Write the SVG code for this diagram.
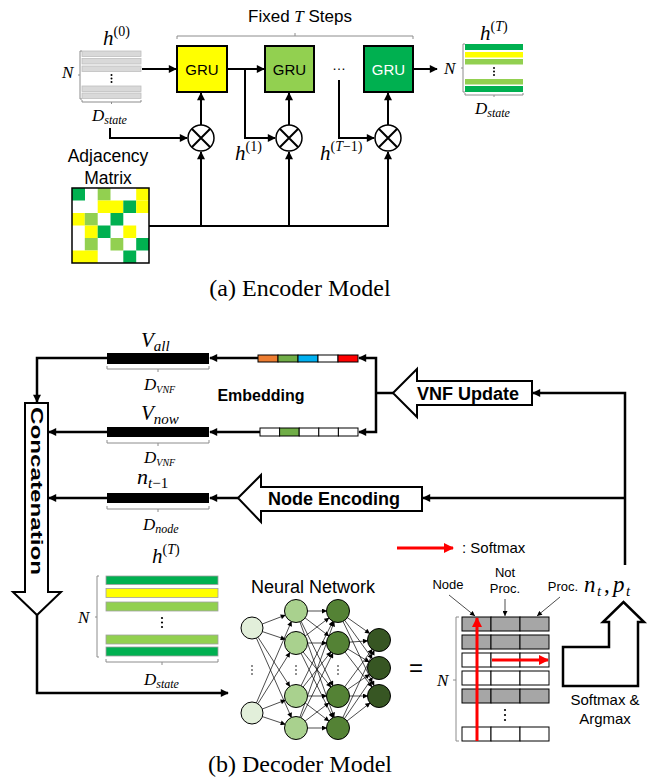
<svg xmlns="http://www.w3.org/2000/svg" width="656" height="780" viewBox="0 0 656 780">
<style>
.sans{font-family:"Liberation Sans",Arial,sans-serif}
.bold{font-weight:bold}
.math{font-family:"Liberation Serif","Times New Roman",serif;font-style:italic}
.up{font-style:normal}
.cap{font-family:"Liberation Serif","Times New Roman",serif}
.ln{fill:none;stroke:#000;stroke-width:2}
.lnb{fill:none;stroke:#000;stroke-width:2.5}
.brk{fill:none;stroke:#8c8c8c;stroke-width:1}
.nn{stroke:#000;stroke-width:0.7}
.cell{stroke:#000;stroke-width:1}
.gray{fill:#a6a6a6}
.wh{fill:#fff}
.y{fill:#ffff00}
.lg{fill:#92d050}
.g{fill:#00b050}
.gr0{fill:#d9d9d9;stroke:#bfbfbf;stroke-width:0.8}
.rowb{stroke:#a0a0a0;stroke-width:0.8}
.dot{fill:#000}
</style>
<defs>
<marker id="ah" viewBox="0 0 10 10" refX="9" refY="5" markerWidth="9" markerHeight="8" markerUnits="userSpaceOnUse" orient="auto"><path d="M0,0 L10,5 L0,10 z" fill="#000"/></marker>
<marker id="as" viewBox="0 0 10 10" refX="10" refY="5" markerWidth="6" markerHeight="5" markerUnits="userSpaceOnUse" orient="auto"><path d="M0,0 L10,5 L0,10 z" fill="#000"/></marker>
<marker id="ar" viewBox="0 0 10 10" refX="9" refY="5" markerWidth="11" markerHeight="10" markerUnits="userSpaceOnUse" orient="auto"><path d="M0,0 L10,5 L0,10 z" fill="#ff0000"/></marker>
</defs>

<!-- ================= ENCODER ================= -->
<g id="fixed-steps">
<text class="sans" x="300" y="22" font-size="17" text-anchor="middle">Fixed <tspan class="math">T</tspan> Steps</text>
<path class="brk" d="M177,39 V36 H413 V39 M295,36 V33"/>
</g>

<g id="h0">
<text class="math" x="103" y="45" font-size="21">h<tspan font-size="14" dy="-9" class="up">(0)</tspan></text>
<rect class="gr0" x="82" y="51" width="59" height="5.5"/>
<rect class="gr0" x="82" y="58.5" width="59" height="5.5"/>
<rect class="gr0" x="82" y="66" width="59" height="5.5"/>
<circle class="dot" cx="111.5" cy="75" r="1"/><circle class="dot" cx="111.5" cy="78.5" r="1"/><circle class="dot" cx="111.5" cy="82" r="1"/>
<rect class="gr0" x="82" y="86" width="59" height="5.5"/>
<rect class="gr0" x="82" y="93" width="59" height="5.5"/>
<path class="brk" d="M82,51 H80 V99 H82 M80,75 H78 M82,100 V102 H141 V100 M111.5,102 V104"/>
<text class="math" x="62" y="78" font-size="17">N</text>
<text class="math" x="92" y="121" font-size="17">D<tspan font-size="12" dy="3">state</tspan></text>
</g>

<g id="gru1">
<rect x="177" y="46" width="50" height="46" fill="#ffff00" stroke="#000" stroke-width="2"/>
<text class="sans" x="202" y="74.5" font-size="15" text-anchor="middle">GRU</text>
</g>
<g id="gru2">
<rect x="265" y="46" width="49" height="46" fill="#92d050" stroke="#000" stroke-width="2"/>
<text class="sans" x="289.5" y="74.5" font-size="15" text-anchor="middle">GRU</text>
</g>
<g id="gru3">
<rect x="364" y="46" width="49" height="46" fill="#00b050" stroke="#000" stroke-width="2"/>
<text class="sans" x="388.5" y="74.5" font-size="15" text-anchor="middle" fill="#fff">GRU</text>
</g>
<g id="ellipsis">
<text class="sans" x="339" y="70" font-size="14" text-anchor="middle">…</text>
</g>

<g id="mul1">
<circle cx="201" cy="138" r="13" fill="#fff" stroke="#000" stroke-width="1.5"/>
<path d="M191.8,128.8 L210.2,147.2 M210.2,128.8 L191.8,147.2" stroke="#000" stroke-width="2"/>
</g>
<g id="mul2">
<circle cx="289" cy="138" r="13" fill="#fff" stroke="#000" stroke-width="1.5"/>
<path d="M279.8,128.8 L298.2,147.2 M298.2,128.8 L279.8,147.2" stroke="#000" stroke-width="2"/>
</g>
<g id="mul3">
<circle cx="388" cy="138" r="13" fill="#fff" stroke="#000" stroke-width="1.5"/>
<path d="M378.8,128.8 L397.2,147.2 M397.2,128.8 L378.8,147.2" stroke="#000" stroke-width="2"/>
</g>

<g id="h1-label">
<text class="math" x="235" y="160" font-size="21">h<tspan font-size="14" dy="-9" class="up">(1)</tspan></text>
</g>
<g id="hT1-label">
<text class="math" x="320" y="160" font-size="21">h<tspan font-size="14" dy="-9" class="up">(</tspan><tspan font-size="14">T</tspan><tspan font-size="14" class="up">−1)</tspan></text>
</g>

<g id="hT-enc">
<text class="math" x="480" y="40" font-size="21">h<tspan font-size="14" dy="-9" class="up">(</tspan><tspan font-size="14">T</tspan><tspan font-size="14" class="up">)</tspan></text>
<rect class="g" x="465" y="44" width="58" height="6"/>
<rect class="y" x="465" y="52" width="58" height="5.5"/>
<rect class="lg" x="465" y="59" width="58" height="5.5"/>
<circle class="dot" cx="494" cy="68" r="1"/><circle class="dot" cx="494" cy="71.5" r="1"/><circle class="dot" cx="494" cy="75" r="1"/>
<rect class="lg" x="465" y="79" width="58" height="5.5"/>
<rect class="g" x="465" y="86" width="58" height="6"/>
<path class="brk" d="M465,44 H463 V92 H465 M463,68 H461 M465,93 V95 H523 V93 M494,95 V97"/>
<text class="math" x="444" y="74" font-size="17">N</text>
<text class="math" x="475" y="114" font-size="17">D<tspan font-size="12" dy="3">state</tspan></text>
</g>

<g id="adjacency">
<text class="sans" x="108" y="162" font-size="17.5" text-anchor="middle">Adjacency</text>
<text class="sans" x="108" y="184" font-size="17.5" text-anchor="middle">Matrix</text>
<rect x="72" y="188" width="77" height="75" fill="#fff"/>
<rect class="g" x="72" y="188" width="13" height="12.5"/>
<rect class="lg" x="97.7" y="188" width="12.8" height="12.5"/>
<rect class="y" x="136.2" y="188" width="12.8" height="12.5"/>
<rect class="y" x="97.7" y="200.5" width="25.6" height="12.5"/>
<rect class="g" x="123.3" y="200.5" width="12.9" height="12.5"/>
<rect class="y" x="136.2" y="200.5" width="12.8" height="12.5"/>
<rect class="y" x="72" y="213" width="12.8" height="12.5"/>
<rect class="lg" x="84.8" y="213" width="12.9" height="12.5"/>
<rect class="g" x="110.5" y="213" width="12.8" height="12.5"/>
<rect class="y" x="84.8" y="225.5" width="12.9" height="12.5"/>
<rect class="g" x="97.7" y="225.5" width="12.8" height="12.5"/>
<rect class="y" x="123.3" y="225.5" width="12.9" height="12.5"/>
<rect class="lg" x="84.8" y="238" width="12.9" height="12.5"/>
<rect class="lg" x="110.5" y="238" width="12.8" height="12.5"/>
<rect class="g" x="136.2" y="238" width="12.8" height="12.5"/>
<rect class="y" x="72" y="250.5" width="25.7" height="12.5"/>
<rect class="g" x="123.3" y="250.5" width="12.9" height="12.5"/>
<rect x="72" y="188" width="77" height="75" fill="none" stroke="#000" stroke-width="1.5"/>
</g>

<g id="enc-connectors">
<path class="ln" d="M142,69 H176" marker-end="url(#ah)"/>
<path class="ln" d="M227,69 H264" marker-end="url(#ah)"/>
<path class="ln" d="M245,69 V138 H275" marker-end="url(#ah)"/>
<path class="ln" d="M413,69 H437" marker-end="url(#ah)"/>
<path class="ln" d="M110,128 V138 H187" marker-end="url(#ah)"/>
<path class="ln" d="M339,80 V138 H374" marker-end="url(#ah)"/>
<path class="ln" d="M201,125 V93" marker-end="url(#ah)"/>
<path class="ln" d="M289,125 V93" marker-end="url(#ah)"/>
<path class="ln" d="M388,125 V93" marker-end="url(#ah)"/>
<path class="ln" d="M149,226 H388 V152" marker-end="url(#ah)"/>
<path class="ln" d="M201,226 V152" marker-end="url(#ah)"/>
<path class="ln" d="M289,226 V152" marker-end="url(#ah)"/>
</g>

<text class="cap" x="300" y="296" font-size="24" text-anchor="middle">(a) Encoder Model</text>

<!-- ================= DECODER ================= -->
<g id="vall">
<text class="math" x="141" y="347" font-size="21">V<tspan font-size="15" dy="4">all</tspan></text>
<rect x="107" y="353" width="102" height="11" fill="#000"/>
<path class="brk" d="M107,366 V369 H209 V366 M158,369 V372"/>
<text class="math" x="144" y="390" font-size="17">D<tspan font-size="10" dy="3">VNF</tspan></text>
</g>
<g id="vnf-all-bar">
<rect x="258" y="355" width="20" height="7" fill="#ed7d31" class="cell"/>
<rect x="278" y="355" width="20" height="7" fill="#70ad47" class="cell"/>
<rect x="298" y="355" width="20" height="7" fill="#00b0f0" class="cell"/>
<rect x="318" y="355" width="20" height="7" fill="#fff" class="cell"/>
<rect x="338" y="355" width="20" height="7" fill="#ff0000" class="cell"/>
</g>
<g id="embedding-label">
<text class="sans bold" x="261" y="401" font-size="16" text-anchor="middle">Embedding</text>
</g>
<g id="vnow">
<text class="math" x="141" y="420" font-size="21">V<tspan font-size="15" dy="4">now</tspan></text>
<rect x="107" y="427" width="102" height="10" fill="#000"/>
<path class="brk" d="M107,440 V443 H209 V440 M158,443 V446"/>
<text class="math" x="144" y="463" font-size="17">D<tspan font-size="10" dy="3">VNF</tspan></text>
</g>
<g id="vnf-now-bar">
<rect x="260" y="428" width="19.6" height="8" fill="#fff" class="cell"/>
<rect x="279.6" y="428" width="19.6" height="8" fill="#70ad47" class="cell"/>
<rect x="299.2" y="428" width="19.6" height="8" fill="#fff" class="cell"/>
<rect x="318.8" y="428" width="19.6" height="8" fill="#fff" class="cell"/>
<rect x="338.4" y="428" width="19.6" height="8" fill="#fff" class="cell"/>
</g>
<g id="vnf-update">
<polygon points="393,393 417,369 417,381 532,381 532,405 417,405 417,417" fill="#fff" stroke="#000" stroke-width="2"/>
<text class="sans bold" x="468" y="399.5" font-size="18" text-anchor="middle">VNF Update</text>
</g>
<g id="nt1">
<text class="math" x="137" y="484" font-size="22">n<tspan font-size="15" dy="4">t</tspan><tspan font-size="15" class="up">−1</tspan></text>
<rect x="107" y="493" width="102" height="10" fill="#000"/>
<path class="brk" d="M107,506 V509 H209 V506 M158,509 V512"/>
<text class="math" x="143" y="530" font-size="17">D<tspan font-size="12" dy="3">node</tspan></text>
</g>
<g id="node-encoding">
<polygon points="238,498 261,475 261,487 422,487 422,511 261,511 261,522" fill="#fff" stroke="#000" stroke-width="2"/>
<text class="sans bold" x="334" y="505" font-size="18" text-anchor="middle">Node Encoding</text>
</g>
<g id="concatenation">
<polygon points="25,403 48,403 48,592 61,592 37,615 13,592 25,592" fill="#fff" stroke="#000" stroke-width="2"/>
<text class="sans bold" transform="translate(36.5,491) rotate(90)" y="6" font-size="17" text-anchor="middle" textLength="168" lengthAdjust="spacingAndGlyphs">Concatenation</text>
</g>

<g id="hT-dec">
<text class="math" x="152" y="563" font-size="21">h<tspan font-size="14" dy="-9" class="up">(</tspan><tspan font-size="14">T</tspan><tspan font-size="14" class="up">)</tspan></text>
<rect class="g rowb" x="106" y="576" width="112" height="8.5"/>
<rect class="y rowb" x="106" y="588.5" width="112" height="9"/>
<rect class="lg rowb" x="106" y="602" width="112" height="9"/>
<circle class="dot" cx="162" cy="618" r="1.1"/><circle class="dot" cx="162" cy="622.5" r="1.1"/><circle class="dot" cx="162" cy="627" r="1.1"/>
<rect class="lg rowb" x="106" y="635" width="112" height="9"/>
<rect class="g rowb" x="106" y="647" width="112" height="9"/>
<path class="brk" d="M99,576 H97 V657 H99 M97,617 H95 M106,659 V662 H218 V659 M162,662 V665"/>
<text class="math" x="78" y="623" font-size="17">N</text>
<text class="math" x="144" y="685" font-size="17">D<tspan font-size="12" dy="3">state</tspan></text>
</g>

<g id="neural-network">
<text class="sans" x="313" y="593" font-size="18" text-anchor="middle">Neural Network</text>
<g class="nn" marker-end="url(#as)">
<line x1="262.3" y1="624" x2="285.7" y2="615"/>
<line x1="262.4" y1="631.6" x2="285.6" y2="639.4"/>
<line x1="258" y1="637.2" x2="290" y2="686.8"/>
<line x1="256.4" y1="638.1" x2="291.6" y2="717.9"/>
<line x1="256.4" y1="702.9" x2="291.6" y2="621.1"/>
<line x1="257.9" y1="703.7" x2="290.1" y2="652.3"/>
<line x1="262.3" y1="709" x2="285.7" y2="700"/>
<line x1="262.4" y1="716.6" x2="285.6" y2="724.4"/>
<line x1="307" y1="611" x2="327" y2="611"/>
<line x1="304.75" y1="617.67" x2="329.25" y2="636.33"/>
<line x1="300.87" y1="620.86" x2="333.13" y2="686.14"/>
<line x1="299.72" y1="621.35" x2="334.28" y2="717.65"/>
<line x1="304.75" y1="636.33" x2="329.25" y2="617.67"/>
<line x1="307" y1="643" x2="327" y2="643"/>
<line x1="302.83" y1="651.62" x2="331.17" y2="687.38"/>
<line x1="300.87" y1="652.86" x2="333.13" y2="718.14"/>
<line x1="300.87" y1="686.14" x2="333.13" y2="620.86"/>
<line x1="302.83" y1="687.38" x2="331.17" y2="651.62"/>
<line x1="307" y1="696" x2="327" y2="696"/>
<line x1="304.75" y1="702.67" x2="329.25" y2="721.33"/>
<line x1="299.72" y1="717.65" x2="334.28" y2="621.35"/>
<line x1="300.87" y1="718.14" x2="333.13" y2="652.86"/>
<line x1="304.75" y1="721.33" x2="329.25" y2="702.67"/>
<line x1="307" y1="728" x2="327" y2="728"/>
<line x1="346.98" y1="617.35" x2="370.02" y2="633.65"/>
<line x1="344.42" y1="619.93" x2="372.58" y2="659.07"/>
<line x1="342.78" y1="620.9" x2="374.22" y2="686.1"/>
<line x1="348.97" y1="642.2" x2="368.03" y2="640.8"/>
<line x1="347.39" y1="648.73" x2="369.61" y2="662.27"/>
<line x1="344.73" y1="651.7" x2="372.27" y2="687.3"/>
<line x1="344.5" y1="687.12" x2="372.5" y2="648.88"/>
<line x1="347.09" y1="689.79" x2="369.91" y2="674.21"/>
<line x1="349" y1="696" x2="368" y2="696"/>
<line x1="342.64" y1="718.03" x2="374.36" y2="649.97"/>
<line x1="344.2" y1="718.92" x2="372.8" y2="677.08"/>
<line x1="346.67" y1="721.23" x2="370.33" y2="702.77"/>
</g>
<g stroke="#000" stroke-width="1">
<circle cx="252" cy="628" r="11" fill="#e2efda"/>
<circle cx="252" cy="713" r="11" fill="#e2efda"/>
<circle cx="296" cy="611" r="11.5" fill="#a9d18e"/>
<circle cx="296" cy="643" r="11.5" fill="#a9d18e"/>
<circle cx="296" cy="696" r="11.5" fill="#a9d18e"/>
<circle cx="296" cy="728" r="11.5" fill="#a9d18e"/>
<circle cx="338" cy="611" r="11.5" fill="#548235"/>
<circle cx="338" cy="643" r="11.5" fill="#548235"/>
<circle cx="338" cy="696" r="11.5" fill="#548235"/>
<circle cx="338" cy="728" r="11.5" fill="#548235"/>
<circle cx="379" cy="640" r="11.5" fill="#375623"/>
<circle cx="379" cy="668" r="11.5" fill="#375623"/>
<circle cx="379" cy="696" r="11.5" fill="#375623"/>
</g>
<g class="dot">
<circle cx="252" cy="666" r="0.8"/><circle cx="252" cy="670" r="0.8"/><circle cx="252" cy="674" r="0.8"/>
<circle cx="296" cy="666" r="0.8"/><circle cx="296" cy="670" r="0.8"/><circle cx="296" cy="674" r="0.8"/>
<circle cx="338" cy="666" r="0.8"/><circle cx="338" cy="670" r="0.8"/><circle cx="338" cy="674" r="0.8"/>
</g>
</g>

<g id="equals">
<text class="sans" x="416" y="676" font-size="24" text-anchor="middle">=</text>
</g>

<g id="softmax-legend">
<line x1="397" y1="548" x2="453" y2="548" stroke="#ff0000" stroke-width="3" marker-end="url(#ar)"/>
<text class="sans" x="462" y="553" font-size="15">: Softmax</text>
</g>

<g id="output-table">
<text class="sans" x="448" y="589" font-size="13" text-anchor="middle">Node</text>
<text class="sans" x="505" y="577" font-size="13" text-anchor="middle">Not</text>
<text class="sans" x="505" y="593" font-size="13" text-anchor="middle">Proc.</text>
<text class="sans" x="563" y="591" font-size="13" text-anchor="middle">Proc.</text>
<g class="nn" marker-end="url(#as)">
<line x1="449" y1="595" x2="475" y2="616"/>
<line x1="505" y1="599" x2="505" y2="616"/>
<line x1="560" y1="597" x2="537" y2="616"/>
</g>
<g class="cell">
<rect class="gray" x="462" y="617" width="29" height="14"/><rect class="gray" x="491" y="617" width="29" height="14"/><rect class="gray" x="520" y="617" width="29" height="14"/>
<rect class="gray" x="462" y="635" width="29" height="14"/><rect class="gray" x="491" y="635" width="29" height="14"/><rect class="gray" x="520" y="635" width="29" height="14"/>
<rect class="wh" x="462" y="653" width="29" height="14"/><rect class="wh" x="491" y="653" width="29" height="14"/><rect class="wh" x="520" y="653" width="29" height="14"/>
<rect class="wh" x="462" y="671" width="29" height="14"/><rect class="wh" x="491" y="671" width="29" height="14"/><rect class="wh" x="520" y="671" width="29" height="14"/>
<rect class="gray" x="462" y="689" width="29" height="14"/><rect class="gray" x="491" y="689" width="29" height="14"/><rect class="gray" x="520" y="689" width="29" height="14"/>
<rect class="wh" x="462" y="727" width="29" height="14"/><rect class="wh" x="491" y="727" width="29" height="14"/><rect class="wh" x="520" y="727" width="29" height="14"/>
</g>
<circle class="dot" cx="505" cy="710" r="1.1"/><circle class="dot" cx="505" cy="715" r="1.1"/><circle class="dot" cx="505" cy="720" r="1.1"/>
<path class="brk" d="M459,617 H456 V741 H459 M456,680 H453"/>
<text class="math" x="437" y="686" font-size="17">N</text>
<line x1="477" y1="741" x2="477" y2="618" stroke="#ff0000" stroke-width="3" marker-end="url(#ar)"/>
<line x1="492" y1="660" x2="548" y2="660" stroke="#ff0000" stroke-width="3" marker-end="url(#ar)"/>
</g>

<g id="softmax-argmax">
<polygon points="563,647 609,647 609,622 603,622 623.5,602 644,622 638,622 638,686 563,686" fill="#fff" stroke="#000" stroke-width="2.5"/>
<text class="sans" x="605" y="705" font-size="15" text-anchor="middle">Softmax &amp;</text>
<text class="sans" x="605" y="724" font-size="15" text-anchor="middle">Argmax</text>
</g>

<g id="ntpt">
<text class="math" font-size="23" y="592"><tspan x="584">n</tspan><tspan x="597" font-size="15" dy="4">t</tspan><tspan x="604" dy="-4" class="up">,</tspan><tspan x="613">p</tspan><tspan x="626" font-size="15" dy="4">t</tspan></text>
</g>

<g id="dec-connectors">
<path class="lnb" d="M625,565 V393 H533" marker-end="url(#ah)"/>
<path class="lnb" d="M625,498 H423" marker-end="url(#ah)"/>
<path class="lnb" d="M393,393 H376"/>
<path class="lnb" d="M376,393 V358 H359" marker-end="url(#ah)"/>
<path class="lnb" d="M376,393 V432 H359" marker-end="url(#ah)"/>
<path class="lnb" d="M258,358 H210" marker-end="url(#ah)"/>
<path class="lnb" d="M260,432 H210" marker-end="url(#ah)"/>
<path class="lnb" d="M238,498 H210" marker-end="url(#ah)"/>
<path class="lnb" d="M107,358 H37 V402" marker-end="url(#ah)"/>
<path class="lnb" d="M107,432 H49" marker-end="url(#ah)"/>
<path class="lnb" d="M107,498 H49" marker-end="url(#ah)"/>
<path class="lnb" d="M37,615 V693 H228" marker-end="url(#ah)"/>
</g>

<text class="cap" x="300" y="772" font-size="24" text-anchor="middle">(b) Decoder Model</text>
</svg>
